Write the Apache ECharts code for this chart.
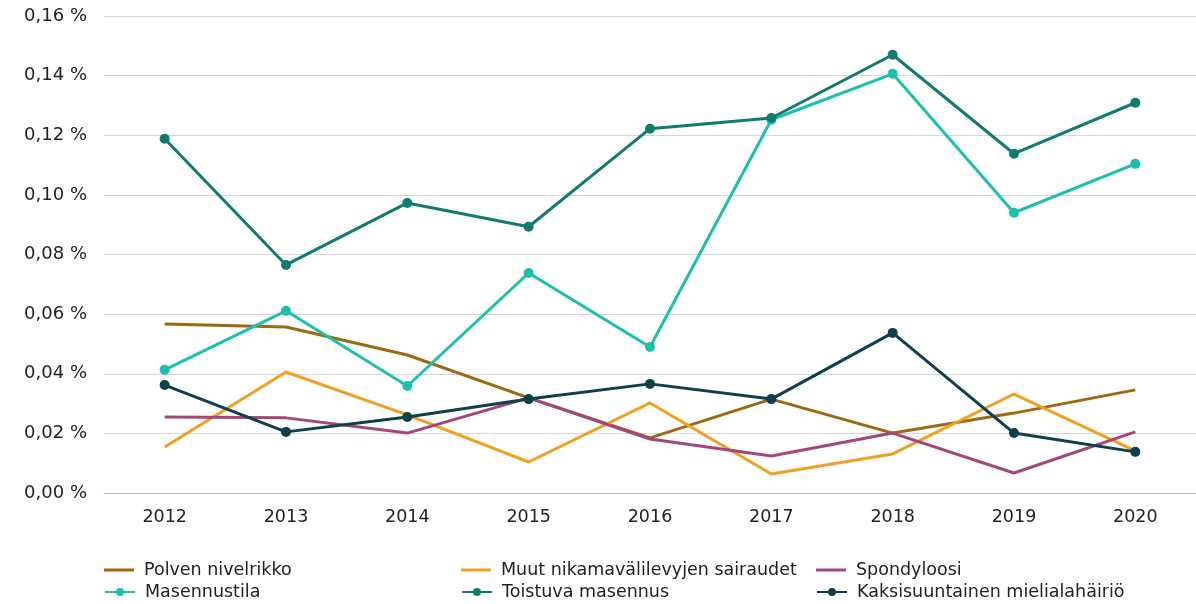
<!DOCTYPE html>
<html>
<head>
<meta charset="utf-8">
<script src="https://cdn.jsdelivr.net/npm/echarts@6/dist/echarts.min.js"></script>
<style>
	html, body { margin: 0; padding: 0; background: #fff; }
	#main { width: 1196px; height: 604px; }
</style>
</head>
<body>
<div id="main"></div>
<script>
	// vuodet
	var years = ['2012', '2013', '2014', '2015', '2016', '2017', '2018', '2019', '2020'];

	// arvot prosentteina
	var polven = [0.0567, 0.0557, 0.0463, 0.0319, 0.0185, 0.0315, 0.0201, 0.0268, 0.0346];
	var muut = [0.0154, 0.0406, 0.0262, 0.0104, 0.0302, 0.0064, 0.0131, 0.0332, 0.0141];
	var spondyloosi = [0.0255, 0.0252, 0.0201, 0.0319, 0.0181, 0.0124, 0.0201, 0.0067, 0.0205];
	var masennustila = [0.0413, 0.0611, 0.0359, 0.0738, 0.0490, 0.1252, 0.1406, 0.0940, 0.1104];
	var toistuva = [0.1188, 0.0765, 0.0973, 0.0893, 0.1222, 0.1258, 0.1470, 0.1138, 0.1309];
	var kaksisuuntainen = [0.0362, 0.0205, 0.0255, 0.0315, 0.0366, 0.0315, 0.0537, 0.0201, 0.0138];

	var myChart = echarts.init(document.getElementById('main'));
	var font = 'DejaVu Sans, Verdana, sans-serif';

	function lineSeries(name, data, color, marker) {
		return {
			name: name,
			type: 'line',
			data: data,
			symbol: marker ? 'circle' : 'none',
			symbolSize: 10,
			showSymbol: marker,
			lineStyle: { width: 3, color: color },
			itemStyle: { color: color },
			emphasis: { disabled: true }
		};
	}

	// yksi legenda per sarja, jotta paikat saa tarkasti
	function legendItem(left, top, name, marker) {
		var l = {
			left: left,
			top: top,
			padding: 0,
			itemWidth: 30,
			itemHeight: marker ? 10 : 3,
			data: [name],
			selectedMode: false,
			textStyle: { fontFamily: font, fontSize: 17.5, color: '#222', padding: [0, 0, 0, 5] }
		};
		if (!marker) l.icon = 'rect';
		return l;
	}

	var option = {
		animation: false,
		grid: {
			left: 104,
			right: 0,
			top: 16,
			bottom: 111
		},
		legend: [
			legendItem(104, 561, 'Polven nivelrikko', false),
			legendItem(104, 583, 'Masennustila', true),
			legendItem(461, 561, 'Muut nikamavälilevyjen sairaudet', false),
			legendItem(461, 583, 'Toistuva masennus', true),
			legendItem(816, 561, 'Spondyloosi', false),
			legendItem(816, 583, 'Kaksisuuntainen mielialahäiriö', true)
		],
		xAxis: {
			type: 'category',
			data: years,
			axisLine: { lineStyle: { color: '#bdbdbd', width: 1 } },
			axisTick: { alignWithLabel: true, length: 5, lineStyle: { color: '#bdbdbd' } },
			axisLabel: { fontFamily: font, fontSize: 17.5, color: '#222', margin: 15 }
		},
		yAxis: {
			type: 'value',
			min: 0,
			max: 0.16,
			interval: 0.02,
			axisLine: { show: false },
			axisTick: { show: false },
			splitLine: { lineStyle: { color: '#d6d6d6', width: 1 } },
			axisLabel: {
				fontFamily: font,
				fontSize: 18,
				color: '#222',
				margin: 17,
				formatter: function (v) {
					return v.toFixed(2).replace('.', ',') + ' %';
				}
			}
		},
		series: [
			lineSeries('Polven nivelrikko', polven, '#9e6812', false),
			lineSeries('Muut nikamavälilevyjen sairaudet', muut, '#f0a020', false),
			lineSeries('Spondyloosi', spondyloosi, '#a4467c', false),
			lineSeries('Masennustila', masennustila, '#1dbfae', true),
			lineSeries('Toistuva masennus', toistuva, '#127b6f', true),
			lineSeries('Kaksisuuntainen mielialahäiriö', kaksisuuntainen, '#0d3f4c', true)
		]
	};

	option && myChart.setOption(option);
</script>
</body>
</html>
